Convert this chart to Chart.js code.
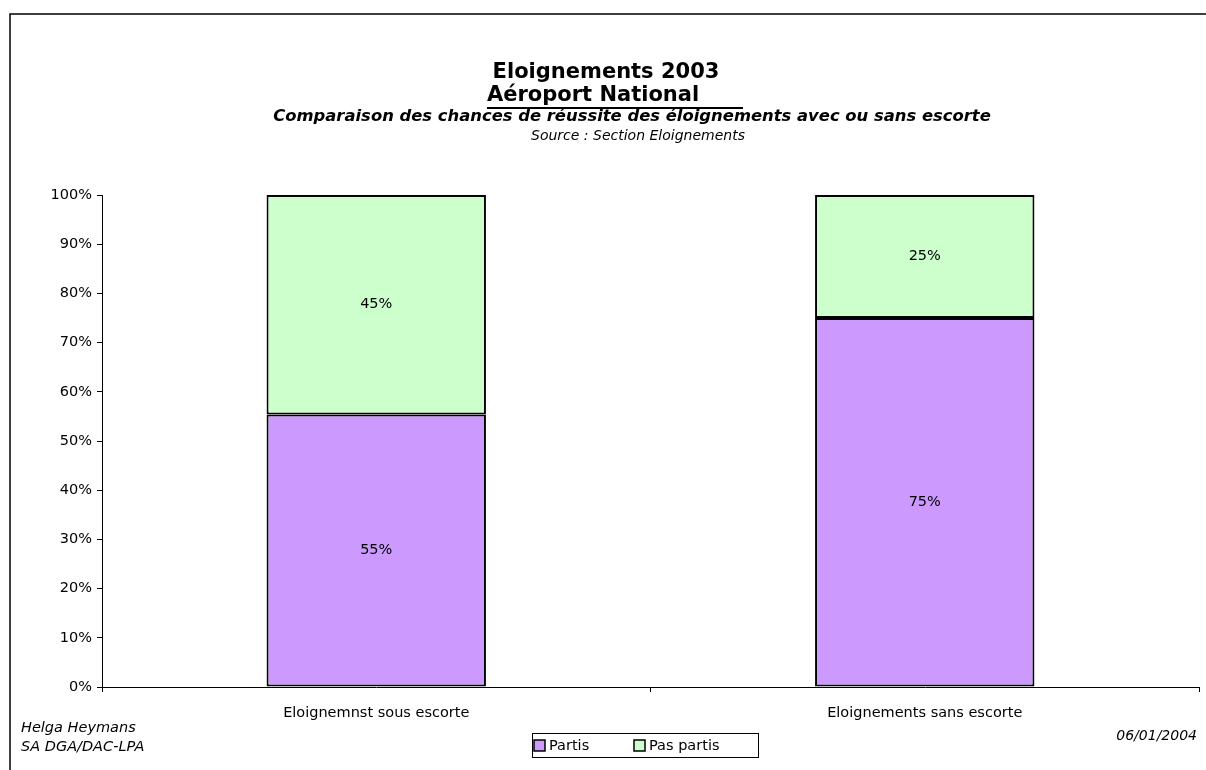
<!DOCTYPE html>
<html>
<head>
<meta charset="utf-8">
<script src="https://cdn.jsdelivr.net/npm/chart.js@4"></script>
<style>
  body { margin: 0; background: #fff; }
  #wrap { width: 1206px; height: 770px; }
</style>
</head>
<body>
<div id="wrap"><canvas id="escorteChart" width="1206" height="770"></canvas></div>
<script>
const categories = ['Eloignemnst sous escorte', 'Eloignements sans escorte'];
const partis = [55.4, 75.0];
const pasPartis = [44.6, 25.0];
const seriesNames = ['Partis', 'Pas partis'];
const seriesColors = ['#CC99FF', '#CCFFCC'];

const FONT = '"DejaVu Sans", Verdana, sans-serif';

// frame, titles, footer, legend and value labels
const decor = {
    id: 'decor',
    afterDraw(chart) {
        const ctx = chart.ctx;
        const W = chart.width, H = chart.height;
        ctx.save();

        // outer frame (top + left edges visible)
        ctx.strokeStyle = '#000';
        ctx.lineWidth = 1.5;
        ctx.beginPath();
        ctx.moveTo(W, 14);
        ctx.lineTo(10, 14);
        ctx.lineTo(10, H);
        ctx.stroke();

        ctx.fillStyle = '#000';
        ctx.textAlign = 'center';
        ctx.textBaseline = 'middle';

        ctx.font = 'bold 21px ' + FONT;
        ctx.fillText('Eloignements 2003', 606, 73);

        ctx.textAlign = 'left';
        ctx.fillText('Aéroport National', 487, 96);
        ctx.fillRect(487, 107, 256, 2);

        ctx.textAlign = 'center';
        ctx.font = 'italic bold 16.4px ' + FONT;
        ctx.fillText('Comparaison des chances de réussite des éloignements avec ou sans escorte', 632, 117);
        ctx.font = 'italic 14px ' + FONT;
        ctx.fillText('Source : Section Eloignements', 638, 136);

        // footer
        ctx.font = 'italic 14.5px ' + FONT;
        ctx.textAlign = 'left';
        ctx.fillText('Helga Heymans', 21, 728);
        ctx.fillText('SA DGA/DAC-LPA', 21, 747);
        ctx.textAlign = 'right';
        ctx.font = 'italic 14px ' + FONT;
        ctx.fillText('06/01/2004', 1197, 736);

        // value labels inside each segment
        ctx.textAlign = 'center';
        ctx.font = '14.5px ' + FONT;
        chart.data.datasets.forEach((ds, i) => {
            chart.getDatasetMeta(i).data.forEach((bar, j) => {
                const p = bar.getProps(['x', 'y', 'base'], true);
                ctx.fillText(Math.round(ds.data[j]) + '%', p.x, (p.y + p.base) / 2);
            });
        });

        // legend box
        const lx = 532, ly = 733, lw = 226, lh = 24;
        ctx.lineWidth = 1;
        ctx.strokeRect(lx + 0.5, ly + 0.5, lw, lh);
        const itemX = [534, 634];
        ctx.textAlign = 'left';
        chart.data.datasets.forEach((ds, i) => {
            const bx = itemX[i];
            ctx.fillStyle = ds.backgroundColor;
            ctx.fillRect(bx, ly + 7, 11, 11);
            ctx.strokeStyle = '#000';
            ctx.lineWidth = 1.5;
            ctx.strokeRect(bx, ly + 7, 11, 11);
            ctx.fillStyle = '#000';
            ctx.fillText(ds.label, bx + 15, ly + 13);
        });

        ctx.restore();
    }
};

new Chart(document.getElementById('escorteChart'), {
    type: 'bar',
    data: {
        labels: categories,
        datasets: [
            { label: seriesNames[0], data: partis, backgroundColor: seriesColors[0] },
            { label: seriesNames[1], data: pasPartis, backgroundColor: seriesColors[1] }
        ].map(ds => ({
            ...ds,
            borderColor: '#000',
            borderWidth: 2,
            borderSkipped: false,
            barPercentage: 0.4,
            categoryPercentage: 1.0
        }))
    },
    options: {
        responsive: false,
        animation: false,
        devicePixelRatio: 1,
        layout: { padding: { top: 195, right: 7, bottom: 43, left: 0 } },
        plugins: {
            legend: { display: false },
            tooltip: { enabled: false }
        },
        scales: {
            x: {
                stacked: true,
                afterFit: scale => { scale.height = 40; },
                grid: {
                    offset: true,
                    drawOnChartArea: false,
                    tickLength: 5,
                    color: '#000'
                },
                border: { color: '#000', width: 1 },
                ticks: { color: '#000', font: { family: FONT, size: 14.5 }, padding: 13 }
            },
            y: {
                stacked: true,
                min: 0,
                max: 100,
                afterFit: scale => { scale.width = 102; },
                grid: {
                    drawOnChartArea: false,
                    tickLength: 5,
                    color: '#000'
                },
                border: { color: '#000', width: 1 },
                ticks: {
                    stepSize: 10,
                    color: '#000',
                    padding: 5,
                    font: { family: FONT, size: 14.5 },
                    callback: v => v + '%'
                }
            }
        }
    },
    plugins: [decor]
});
</script>
</body>
</html>
